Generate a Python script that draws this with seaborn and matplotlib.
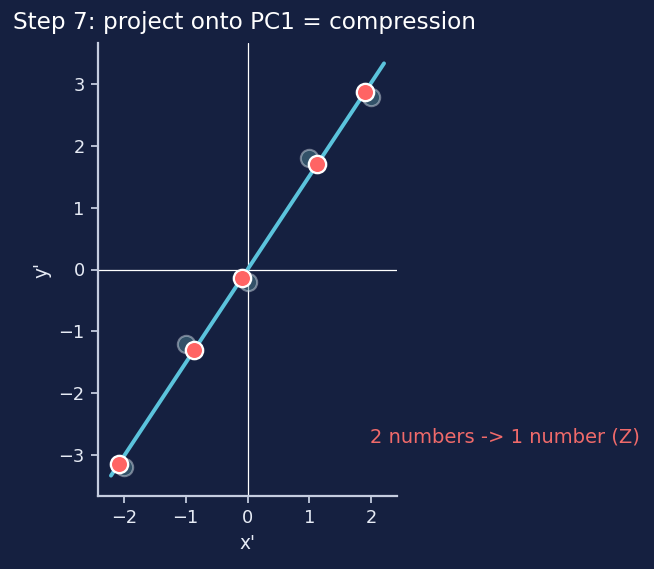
import numpy as np
import pandas as pd
import matplotlib
matplotlib.use("Agg")
import matplotlib.pyplot as plt
import seaborn as sns

# --- datos centrados (x', y') ---
x_orig = [-2, -1, 0, 1, 2]
y_orig = [-3.2, -1.2, -0.2, 1.8, 2.8]

# proyecciones sobre PC1
x_proj = [-2.08, -0.86, -0.09, 1.13, 1.90]
y_proj = [-3.15, -1.30, -0.14, 1.71, 2.87]

# recta PC1
pc1_x = [-2.21, 2.21]
pc1_y = [-3.34, 3.34]

orig = pd.DataFrame({"x": x_orig, "y": y_orig})
proj = pd.DataFrame({"x": x_proj, "y": y_proj})
linea = pd.DataFrame({"x": pc1_x, "y": pc1_y})

BG = "#152040"
FG = "#e6ebf5"
SPINE = "#c5cde0"

sns.set_theme(style="white")
plt.rcParams.update({
    "figure.facecolor": BG,
    "axes.facecolor": BG,
    "axes.edgecolor": SPINE,
    "axes.labelcolor": FG,
    "xtick.color": SPINE,
    "ytick.color": SPINE,
    "xtick.labelcolor": FG,
    "ytick.labelcolor": FG,
    "text.color": FG,
})
plt.rcParams["font.family"] = ["DejaVu Sans"]

fig = plt.figure(figsize=(654 / 128, 569 / 128), dpi=128)
ax = fig.add_axes([98 / 654, 73 / 569, 299 / 654, 453 / 569])

ax.axhline(0, color="white", lw=0.7, zorder=1)
ax.axvline(0, color="white", lw=0.7, zorder=1)

sns.lineplot(data=linea, x="x", y="y", ax=ax, color="#5bc3dc", lw=2.2, zorder=2)
sns.scatterplot(data=orig, x="x", y="y", ax=ax, s=95, color="#568f9b", alpha=0.45,
                edgecolor="#dde4ee", linewidth=1.2, zorder=3)
sns.scatterplot(data=proj, x="x", y="y", ax=ax, s=95, color="#ff6464",
                edgecolor="white", linewidth=1.3, zorder=4)

ax.set_xlim(-2.42, 2.42)
ax.set_ylim(-3.67, 3.67)
ax.set_xticks([-2, -1, 0, 1, 2])
ax.set_yticks([-3, -2, -1, 0, 1, 2, 3])
ax.tick_params(length=4, width=1, labelsize=10, bottom=True, left=True)
ax.set_xlabel("x'", fontsize=10.5)
ax.set_ylabel("y'", fontsize=10.5)
sns.despine(ax=ax)

ax.text(1.98, -2.72, "2 numbers -> 1 number (Z)", color="#f06a6a", fontsize=11,
        va="center", ha="left", clip_on=False)
fig.text(13 / 654, 1 - 23 / 569, "Step 7: project onto PC1 = compression",
         fontsize=13, color="white", ha="left", va="center")

fig.savefig("out.png", dpi=128, facecolor=BG)
